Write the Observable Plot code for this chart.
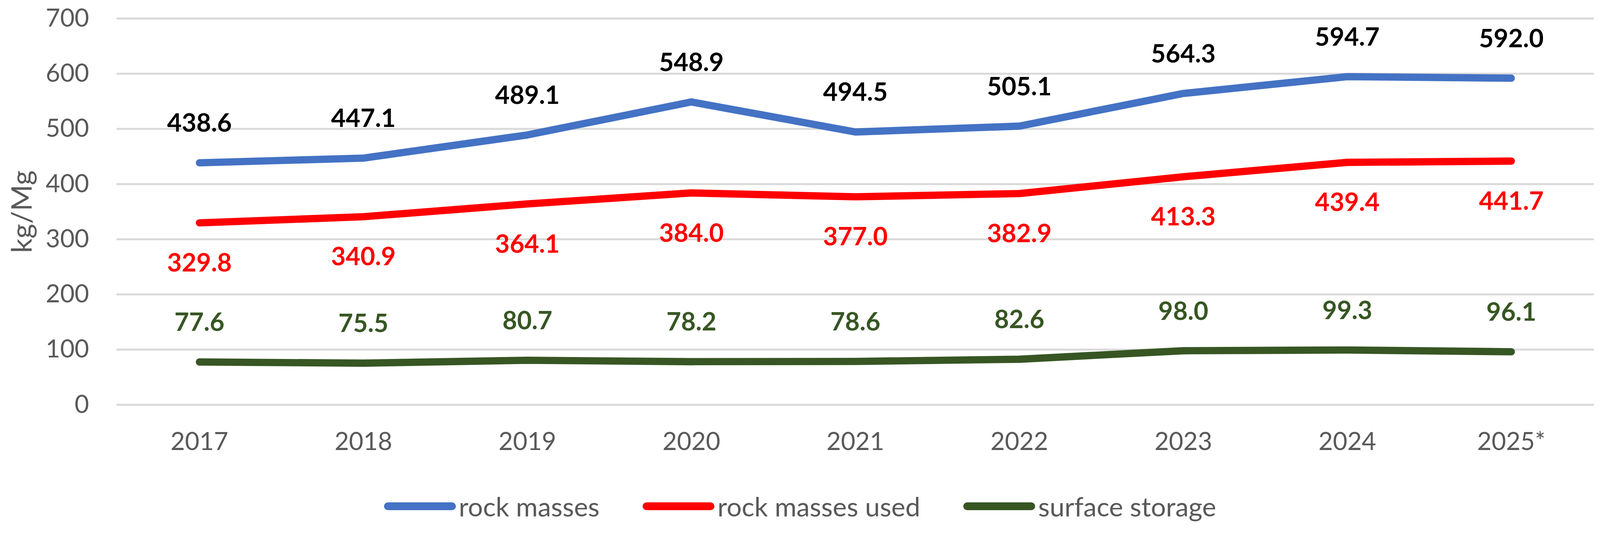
<!DOCTYPE html>
<html>
<head>
<meta charset="utf-8">
<script src="https://cdn.jsdelivr.net/npm/d3@7"></script>
<script src="https://cdn.jsdelivr.net/npm/@observablehq/plot@0.6"></script>
<style>
  html, body { margin: 0; padding: 0; background: #fff; overflow: hidden; }
  #chart svg { display: block; }
  #legend {
    height: 120px; display: flex; align-items: center; justify-content: center;
    gap: 110px; font-family: Lato, sans-serif; font-size: 68px; color: #595959;
  }
  .item { display: flex; align-items: center; }
  .sw { display: inline-block; width: 184px; height: 20px; border-radius: 10px; margin-right: 8px; }
</style>
</head>
<body>
<div id="chart"></div>
<div id="legend"></div>
<script>
const years = ["2017", "2018", "2019", "2020", "2021", "2022", "2023", "2024", "2025*"];
const rockMasses = [438.6, 447.1, 489.1, 548.9, 494.5, 505.1, 564.3, 594.7, 592.0];
const rockMassesUsed = [329.8, 340.9, 364.1, 384.0, 377.0, 382.9, 413.3, 439.4, 441.7];
const surfaceStorage = [77.6, 75.5, 80.7, 78.2, 78.6, 82.6, 98.0, 99.3, 96.1];
const seriesNames = ["rock masses", "rock masses used", "surface storage"];
const lineColors = ["#4472C4", "#FF0000", "#375623"];
const labelColors = ["#000000", "#FF0000", "#375623"];
const labelSide = ["above", "below", "above"];
const yTicks = [0, 100, 200, 300, 400, 500, 600, 700];

const seriesValues = [rockMasses, rockMassesUsed, surfaceStorage];
const rows = seriesValues.flatMap((vals, i) =>
  vals.map((v, j) => ({year: years[j], value: v, series: seriesNames[i], idx: i})));

const marks = [
  Plot.gridY(yTicks, {stroke: "#D9D9D9", strokeOpacity: 1, strokeWidth: 5}),
  Plot.axisY(yTicks, {
    tickSize: 0, tickPadding: 72, fontSize: 65, fill: "#595959", label: null
  }),
  Plot.axisY([], {
    tickSize: 0, fontSize: 74, fill: "#595959",
    label: "kg/Mg", labelAnchor: "center", labelOffset: 274, labelArrow: "none"
  }),
  Plot.axisX({tickSize: 0, tickPadding: 72, fontSize: 65, fill: "#595959", label: null})
];
seriesNames.forEach((name, i) => {
  const data = rows.filter(d => d.idx === i);
  marks.push(Plot.lineY(data, {
    x: "year", y: "value", stroke: lineColors[i], strokeWidth: 19,
    strokeLinecap: "round", strokeLinejoin: "round"
  }));
});
seriesNames.forEach((name, i) => {
  const data = rows.filter(d => d.idx === i);
  marks.push(Plot.text(data, {
    x: "year", y: "value", text: d => d.value.toFixed(1),
    dy: labelSide[i] === "above" ? -102 : 106,
    fill: labelColors[i], fontSize: 66, fontWeight: "bold"
  }));
});

const chart = Plot.plot({
  width: 4176,
  height: 1260,
  marginLeft: 304,
  marginRight: 16,
  marginTop: 48,
  marginBottom: 204,
  style: {fontFamily: "Lato, sans-serif", background: "#fff"},
  x: {type: "point", domain: years, padding: 0.5},
  y: {domain: [0, 700]},
  marks
});
document.getElementById("chart").appendChild(chart);

const legend = document.getElementById("legend");
seriesNames.forEach((name, i) => {
  const item = document.createElement("div");
  item.className = "item";
  const sw = document.createElement("span");
  sw.className = "sw";
  sw.style.background = lineColors[i];
  const t = document.createElement("span");
  t.textContent = name;
  item.appendChild(sw);
  item.appendChild(t);
  legend.appendChild(item);
});
</script>
</body>
</html>
